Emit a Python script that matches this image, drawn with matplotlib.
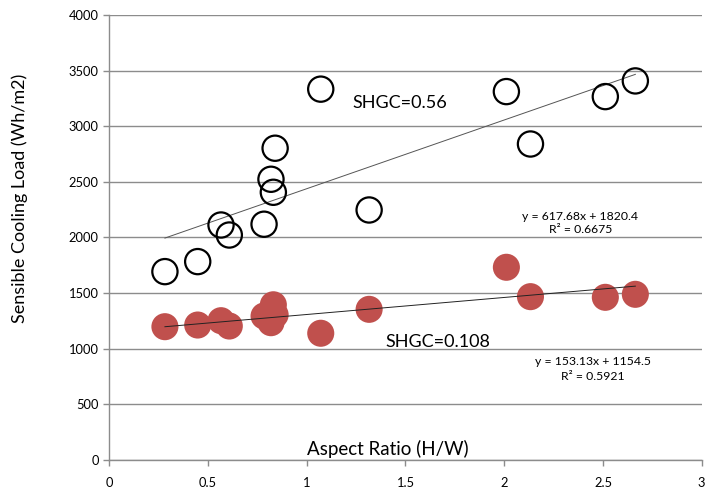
import numpy as np
import matplotlib
matplotlib.use("Agg")
from matplotlib import pyplot as plt

plt.rcParams['font.family'] = ['Lato', 'DejaVu Sans']

# aspect ratio (H/W) of the cases
aspect = [0.282, 0.448, 0.566, 0.608, 0.784, 0.819, 0.831, 0.840,
          1.071, 1.316, 2.011, 2.133, 2.512, 2.664]
# sensible cooling load, Wh/m2
load_056 = [1693, 1783, 2112, 2022, 2119, 2523, 2406, 2802,
            3333, 2247, 3311, 2840, 3266, 3407]
load_0108 = [1198, 1213, 1252, 1204, 1294, 1234, 1395, 1305,
             1139, 1354, 1732, 1468, 1462, 1489]

# linear trend lines as reported on the chart (slope, intercept, R2)
fit_056 = [617.68, 1820.4, 0.6675]
fit_0108 = [153.13, 1154.5, 0.5921]

red = '#C0504D'
grid_col = '#8c8c8c'

fig = plt.figure(figsize=(7.07, 4.88), dpi=100)
ax = fig.add_axes([0.1545, 0.0574, 0.838, 0.912])

ax.set_xlim(0, 3)
ax.set_ylim(0, 4000)
ax.set_xticks(np.arange(0, 3.01, 0.5))
ax.set_xticklabels(['0', '0.5', '1', '1.5', '2', '2.5', '3'])
ax.set_yticks(np.arange(0, 4001, 500))
ax.yaxis.grid(True, color=grid_col, linewidth=1.0)
ax.set_axisbelow(True)
for s in ['top', 'right']:
    ax.spines[s].set_visible(False)
for s in ['left', 'bottom']:
    ax.spines[s].set_color(grid_col)
    ax.spines[s].set_linewidth(1.0)
ax.tick_params(axis='both', colors=grid_col, length=4, width=1.0,
               labelcolor='black', labelsize=9.3)
ax.tick_params(axis='x', pad=8)

# trend lines over the data range
xs = np.array([min(aspect), max(aspect)])
ax.plot(xs, fit_056[0] * xs + fit_056[1], color='#555555', linewidth=0.7, zorder=2)
ax.plot(xs, fit_0108[0] * xs + fit_0108[1], color='#222222', linewidth=0.7, zorder=4)

ax.scatter(aspect, load_056, s=330, facecolors='none', edgecolors='black',
           linewidths=1.6, zorder=3)
ax.scatter(aspect, load_0108, s=380, color=red, edgecolors='none', zorder=3)

ax.text(1.23, 3209, 'SHGC=0.56', fontsize=13, va='center', ha='left')
ax.text(1.40, 1061, 'SHGC=0.108', fontsize=13, va='center', ha='left')

ax.text(2.386, 2184, 'y = %.2fx + %.1f' % (fit_056[0], fit_056[1]),
        fontsize=8.8, ha='center', va='center')
ax.text(2.386, 2076, 'R\u00b2 = %.4f' % fit_056[2],
        fontsize=8.8, ha='center', va='center')
ax.text(2.45, 884, 'y = %.2fx + %.1f' % (fit_0108[0], fit_0108[1]),
        fontsize=8.8, ha='center', va='center')
ax.text(2.45, 749, 'R\u00b2 = %.4f' % fit_0108[2],
        fontsize=8.8, ha='center', va='center')

ax.text(0.47, 0.005, 'Aspect Ratio (H/W)', transform=ax.transAxes,
        fontsize=13.5, ha='center', va='bottom')
fig.text(20 / 707, 1 - 198 / 488, 'Sensible Cooling Load (Wh/m2)',
         rotation=90, fontsize=13, ha='center', va='center')

fig.savefig('out.png', dpi=100)
